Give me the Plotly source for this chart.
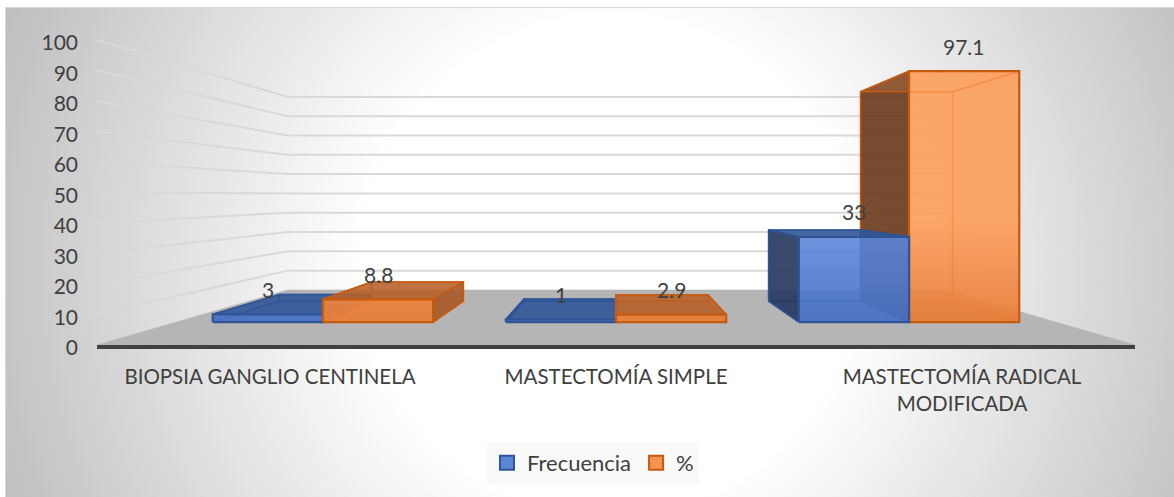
import base64
import plotly.graph_objects as go

# Chart data
categories = ["BIOPSIA GANGLIO CENTINELA", "MASTECTOMÍA SIMPLE", "MASTECTOMÍA RADICAL<br>MODIFICADA"]
frecuencia = [3, 1, 33]
porcentaje = [8.8, 2.9, 97.1]
value_ticks = list(range(0, 101, 10))

# Perspective model: depth scale of each plane, and the eye level in front-plane value units
HORIZON = 49.18
S_FRONT_WALL = 1.0
S_BAR_FRONT = 0.847
S_BAR_BACK = 0.707
S_BACK_WALL = 0.633
BAR_WIDTH = 0.376
X_MIN, X_MAX = -0.5, 2.5

TEXT = "#404040"
FONT = "Lato"
GRID = "#d9d9d9"
FLOOR = "#b5b5b5"

BLUE = dict(
    edge="#2f5597", inner="rgba(47,85,151,0.75)", hidden="rgba(70,105,175,0.22)",
    front_low="rgba(70,112,196,0.90)", front_high="rgba(96,140,226,0.84)", back="rgba(70,105,175,0.25)",
    top="rgba(47,85,151,0.86)", bottom="rgba(47,85,151,0.25)",
    left="rgba(40,58,95,0.90)", right="rgba(55,85,150,0.85)",
)
ORANGE = dict(
    edge="#c55a11", inner="rgba(225,105,35,0.95)", hidden="rgba(235,135,70,0.22)",
    front_low="rgba(232,125,55,0.92)", front_high="rgba(254,156,86,0.84)", back="rgba(235,135,70,0.22)",
    top="rgba(180,95,40,0.86)", bottom="rgba(190,95,35,0.25)",
    left="rgba(100,55,25,0.88)", right="rgba(165,90,40,0.90)",
)
GRADIENT_TOP_VALUE = 40


def project(cat, value, s):
    """Map a 3D position to the 2D axes: category, value and depth scale."""
    return 1 + (cat - 1) * s, HORIZON * (1 - s) + value * s


def polygon(points):
    xs, ys = zip(*points, points[0])
    return list(xs), list(ys)


fig = go.Figure()


def add_face(points, fill, line, width, gradient=None):
    xs, ys = polygon(points)
    fig.add_trace(go.Scatter(
        x=xs, y=ys, mode="lines", fill="toself", fillcolor=fill,
        fillgradient=gradient, line=dict(color=line, width=width), showlegend=False,
        hoverinfo="skip", cliponaxis=False,
    ))


def add_bar(x0, x1, value, style):
    f, b = S_BAR_FRONT, S_BAR_BACK
    back = [project(x0, 0, b), project(x1, 0, b), project(x1, value, b), project(x0, value, b)]
    bottom = [project(x0, 0, f), project(x1, 0, f), project(x1, 0, b), project(x0, 0, b)]
    left = [project(x0, 0, f), project(x0, value, f), project(x0, value, b), project(x0, 0, b)]
    right = [project(x1, 0, f), project(x1, value, f), project(x1, value, b), project(x1, 0, b)]
    top = [project(x0, value, f), project(x1, value, f), project(x1, value, b), project(x0, value, b)]
    front = [project(x0, 0, f), project(x1, 0, f), project(x1, value, f), project(x0, value, f)]

    # A face turned away from the eye only shows faintly through the front
    left_seen, right_seen = x0 > 1, x1 < 1
    top_seen = value * S_BAR_BACK + HORIZON * (1 - S_BAR_BACK) < HORIZON

    add_face(back, style["back"], style["inner"], 1.5)
    add_face(bottom, style["bottom"], style["inner"], 1.5)
    add_face(left, style["left"] if left_seen else style["hidden"],
             style["edge"] if left_seen else style["inner"], 1.5)
    add_face(right, style["right"] if right_seen else style["hidden"],
             style["edge"] if right_seen else style["inner"], 1.5)
    add_face(top, style["top"] if top_seen else style["hidden"],
             style["edge"] if (top_seen or left_seen) else style["inner"], 1.5)
    # The front face brightens with height, starting from the floor line
    gradient = dict(
        type="vertical",
        start=project(x0, 0, f)[1], stop=project(x0, GRADIENT_TOP_VALUE, f)[1],
        colorscale=[[0, style["front_low"]], [1, style["front_high"]]],
    )
    add_face(front, style["front_high"], style["edge"], 2.2, gradient)


# Floor of the 3D box
add_face(
    [project(X_MIN, 0, S_FRONT_WALL), project(X_MAX, 0, S_FRONT_WALL),
     project(X_MAX, 0, S_BACK_WALL), project(X_MIN, 0, S_BACK_WALL)],
    FLOOR, FLOOR, 0.5,
)

# Gridlines running along the left wall and across the back wall
for v in value_ticks[1:]:
    pts = [project(X_MIN, v, S_FRONT_WALL), project(X_MIN, v, S_BACK_WALL), project(X_MAX, v, S_BACK_WALL)]
    fig.add_trace(go.Scatter(
        x=[p[0] for p in pts], y=[p[1] for p in pts], mode="lines",
        line=dict(color=GRID, width=2), showlegend=False, hoverinfo="skip", cliponaxis=False,
    ))

# Bars are painted from the outside towards the centre of the view
bars = []
for i in range(len(categories)):
    bars.append((i - BAR_WIDTH, i, frecuencia[i], BLUE))
    bars.append((i, i + BAR_WIDTH, porcentaje[i], ORANGE))
for x0, x1, value, style in sorted(bars, key=lambda b: -abs((b[0] + b[1]) / 2 - 1)):
    add_bar(x0, x1, value, style)

# Legend entries
for name, swatch, style in (("Frecuencia", "#5b86d4", BLUE), ("%", "#f4924f", ORANGE)):
    fig.add_trace(go.Scatter(
        x=[None], y=[None], mode="markers", name=name,
        marker=dict(symbol="square", size=14, color=swatch,
                    line=dict(color=style["edge"], width=2)),
    ))

# Value labels above each bar
annotations = []
for i in range(len(categories)):
    for value, cx in ((frecuencia[i], i - BAR_WIDTH / 2), (porcentaje[i], i + BAR_WIDTH / 2)):
        x, y = project(cx, value, S_BAR_FRONT)
        annotations.append(dict(
            x=x, y=y, text=str(value), showarrow=False, yshift=25, yanchor="middle",
            font=dict(family=FONT, size=21, color=TEXT),
        ))

W, H = 1174, 497
ML, MR, MT, MB = 97, 39, 40, 152
PW, PH = W - ML - MR, H - MT - MB

# Radial background of the chart area
svg = f'''<svg xmlns="http://www.w3.org/2000/svg" width="{W}" height="{H}" viewBox="0 0 {W} {H}">
<defs><radialGradient id="g" gradientUnits="userSpaceOnUse" cx="610" cy="265" r="650">
<stop offset="0" stop-color="#ffffff"/><stop offset="0.38" stop-color="#ffffff"/>
<stop offset="1" stop-color="#bfbfbf"/></radialGradient></defs>
<rect x="5.5" y="7.5" width="{W}" height="{H}" fill="url(#g)" stroke="#d9d9d9"/></svg>'''
bg = "data:image/svg+xml;base64," + base64.b64encode(svg.encode()).decode()

fig.update_layout(
    width=W, height=H, autosize=False,
    margin=dict(l=ML, r=MR, t=MT, b=MB),
    paper_bgcolor="white", plot_bgcolor="rgba(0,0,0,0)",
    font=dict(family=FONT, size=21, color=TEXT),
    images=[dict(
        source=bg, xref="paper", yref="paper", layer="below", sizing="stretch",
        x=-ML / PW, y=1 + MT / PH, sizex=W / PW, sizey=H / PH,
        xanchor="left", yanchor="top",
    )],
    annotations=annotations,
    xaxis=dict(
        range=[X_MIN, X_MAX], tickmode="array", tickvals=list(range(len(categories))),
        ticktext=categories, showgrid=False, zeroline=False,
        showline=True, linecolor=TEXT, linewidth=3.5, ticks="",
        tickfont=dict(family=FONT, size=20.5, color=TEXT), ticklabelstandoff=11,
    ),
    yaxis=dict(
        range=[0, 100], tickmode="array", tickvals=value_ticks, showgrid=False,
        zeroline=False, showline=False, ticks="", ticklabelstandoff=18, ticklabelshift=3,
        tickfont=dict(family=FONT, size=21, color=TEXT),
    ),
    legend=dict(
        orientation="h", x=(487 - ML) / PW, y=(345 - 442) / PH, xanchor="left", yanchor="top",
        bgcolor="#f9f9f9", font=dict(family=FONT, size=22, color=TEXT),
    ),
)

fig.write_html("out.html")
